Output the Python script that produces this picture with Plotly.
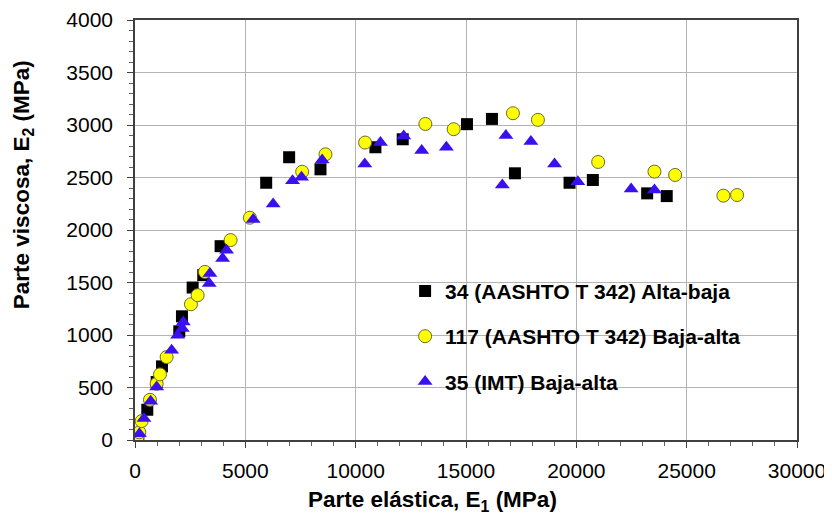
import plotly.graph_objects as go

# Series 34 (AASHTO T 342) Alta-baja
e1_34 = [150, 557, 982, 1222, 2006, 2128, 2612, 3093, 3879, 5945, 6985, 8406,
         10895, 12133, 15044, 16176, 17218, 19692, 20748, 23209, 24097]
e2_34 = [40, 288, 552, 701, 1035, 1178, 1452, 1570, 1846, 2450, 2693, 2578,
         2788, 2864, 3008, 3058, 2540, 2450, 2476, 2349, 2323]

# Series 117 (AASHTO T 342) Baja-alta
e1_117 = [105, 195, 300, 679, 982, 1132, 1434, 2535, 2838, 3169, 4332, 5206,
          7575, 8632, 10427, 13158, 14441, 17127, 18259, 20990, 23540, 24477,
          26664, 27284]
e2_117 = [20, 74, 180, 383, 536, 625, 790, 1293, 1379, 1601, 1904, 2117,
          2555, 2721, 2833, 3010, 2960, 3112, 3049, 2648, 2556, 2524,
          2327, 2333]

# Series 35 (IMT) Baja-alta
e1_35 = [200, 407, 710, 982, 1660, 1932, 2143, 2188, 3365, 3395, 3970, 4151,
         5355, 6261, 7139, 7546, 8481, 10412, 11122, 12177, 12992, 14110,
         16645, 16809, 17940, 19013, 20068, 22484, 23540]
e2_35 = [60, 205, 370, 504, 854, 997, 1061, 1124, 1490, 1586, 1729, 1808,
         2101, 2247, 2470, 2502, 2667, 2629, 2833, 2896, 2756, 2788,
         2429, 2899, 2842, 2629, 2460, 2390, 2381]

names = ["34 (AASHTO T 342) Alta-baja",
         "117 (AASHTO T 342) Baja-alta",
         "35 (IMT) Baja-alta"]

FONT = "Liberation Sans, Arial, sans-serif"

fig = go.Figure()
fig.add_trace(go.Scatter(
    x=e1_34, y=e2_34, mode="markers", name=names[0], legendgroup="a",
    marker=dict(symbol="square", size=12, color="#000000",
                line=dict(color="#000000", width=0))))
fig.add_trace(go.Scatter(
    x=e1_117, y=e2_117, mode="markers", name=names[1], legendgroup="b",
    marker=dict(symbol="circle", size=13, color="#FFFF00",
                line=dict(color="#6b6b2a", width=1))))
fig.add_trace(go.Scatter(
    x=e1_35, y=e2_35, mode="markers", name=names[2], legendgroup="c",
    marker=dict(symbol="triangle-up", size=13, color="#3a0ff0",
                line=dict(color="#3a0ff0", width=0))))

axis_common = dict(
    showline=True, linecolor="#404040", linewidth=1.5, mirror=True,
    showgrid=True, gridcolor="#b4b4b4", gridwidth=1,
    ticks="outside", ticklen=6, tickcolor="#404040", tickwidth=1,
    zeroline=False, automargin=False, tickformat="d",
    ticklabeloverflow="allow",
    tickfont=dict(family=FONT, size=21, color="#000000"),
)

fig.update_xaxes(range=[0, 30000], dtick=5000, tick0=0,
                 minor=dict(dtick=1000, ticks="outside", ticklen=4,
                            tickcolor="#606060", showgrid=False),
                 ticklabelstandoff=5, **axis_common)
fig.update_yaxes(range=[0, 4000], dtick=500, tick0=0,
                 minor=dict(dtick=100, ticks="outside", ticklen=4,
                            tickcolor="#606060", showgrid=False),
                 ticklabelstandoff=10, **axis_common)

fig.update_layout(
    width=824, height=509,
    margin=dict(l=127, r=35, t=12, b=77, pad=0),
    plot_bgcolor="#ffffff", paper_bgcolor="#ffffff",
    font=dict(family=FONT, color="#000000"),
    legend=dict(x=0.408, y=0.403, xanchor="left", yanchor="top",
                bgcolor="rgba(255,255,255,0)", borderwidth=0,
                traceorder="grouped", tracegroupgap=15,
                font=dict(family=FONT, size=21, color="#000000",
                          weight="bold")),
    annotations=[
        dict(text="Parte elástica, E<sub>1</sub> (MPa)", xref="paper",
             yref="paper", x=0.45, y=-0.146, showarrow=False,
             xanchor="center", yanchor="middle",
             font=dict(family=FONT, size=22.5, weight="bold")),
        dict(text="Parte viscosa, E<sub>2</sub> (MPa)", xref="paper",
             yref="paper", x=-0.169, y=0.607, showarrow=False,
             textangle=-90, xanchor="center", yanchor="middle",
             font=dict(family=FONT, size=22.5, weight="bold")),
    ],
)

fig.write_html("out.html")
